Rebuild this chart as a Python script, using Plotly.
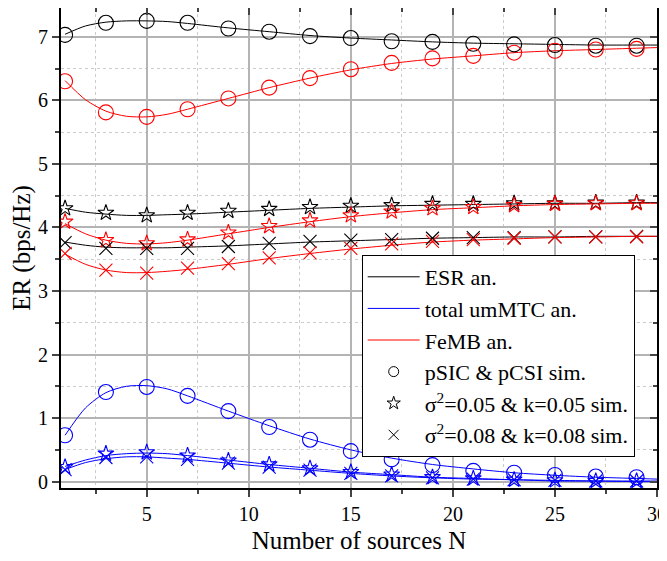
import plotly.graph_objects as go

# Simulation points
N_sim = [1, 3, 5, 7, 9, 11, 13, 15, 17, 19, 21, 23, 25, 27, 29]
esr_p_sim = [7.03, 7.22, 7.25, 7.22, 7.13, 7.08, 7.01, 6.98, 6.93, 6.92, 6.89, 6.88, 6.87, 6.86, 6.86]
femb_p_sim = [6.30, 5.81, 5.74, 5.86, 6.03, 6.20, 6.35, 6.49, 6.59, 6.66, 6.70, 6.75, 6.78, 6.80, 6.81]
mtc_p_sim = [0.73, 1.41, 1.49, 1.35, 1.11, 0.86, 0.66, 0.48, 0.35, 0.26, 0.17, 0.14, 0.105, 0.08, 0.07]
esr_05_sim = [4.30, 4.23, 4.19, 4.23, 4.26, 4.29, 4.32, 4.34, 4.35, 4.37, 4.37, 4.38, 4.38, 4.39, 4.39]
femb_05_sim = [4.09, 3.80, 3.75, 3.81, 3.92, 4.02, 4.11, 4.19, 4.25, 4.30, 4.32, 4.35, 4.37, 4.38, 4.38]
mtc_05_sim = [0.23, 0.44, 0.46, 0.41, 0.33, 0.27, 0.21, 0.15, 0.11, 0.07, 0.05, 0.03, 0.02, 0.01, 0.01]
esr_08_sim = [3.76, 3.67, 3.67, 3.67, 3.70, 3.75, 3.78, 3.80, 3.81, 3.83, 3.84, 3.84, 3.85, 3.85, 3.86]
femb_08_sim = [3.59, 3.33, 3.28, 3.36, 3.43, 3.52, 3.60, 3.67, 3.74, 3.78, 3.81, 3.83, 3.85, 3.85, 3.85]
mtc_08_sim = [0.19, 0.38, 0.39, 0.35, 0.29, 0.23, 0.18, 0.13, 0.09, 0.06, 0.04, 0.03, 0.02, 0.01, 0.01]

# Analytical curves
N_an = [1, 2, 3, 4, 5, 6, 7, 9, 11, 13, 15, 17, 19, 21, 23, 25, 27, 29, 30]
esr_p_an = [7.04, 7.17, 7.23, 7.25, 7.25, 7.24, 7.21, 7.14, 7.08, 7.02, 6.98, 6.95, 6.92, 6.90, 6.89, 6.88, 6.87, 6.87, 6.87]
femb_p_an = [6.31, 6.01, 5.83, 5.75, 5.74, 5.78, 5.86, 6.03, 6.20, 6.35, 6.48, 6.58, 6.65, 6.70, 6.75, 6.78, 6.80, 6.82, 6.83]
mtc_p_an = [0.73, 1.16, 1.40, 1.50, 1.51, 1.46, 1.35, 1.11, 0.88, 0.67, 0.50, 0.37, 0.27, 0.20, 0.14, 0.10, 0.07, 0.05, 0.04]
esr_05_an = [4.30, 4.24, 4.21, 4.19, 4.19, 4.20, 4.21, 4.24, 4.27, 4.30, 4.32, 4.34, 4.35, 4.36, 4.37, 4.38, 4.38, 4.39, 4.39]
femb_05_an = [4.06, 3.90, 3.80, 3.75, 3.74, 3.76, 3.80, 3.90, 4.00, 4.09, 4.17, 4.23, 4.28, 4.31, 4.34, 4.36, 4.37, 4.38, 4.38]
mtc_05_an = [0.24, 0.34, 0.41, 0.44, 0.45, 0.44, 0.41, 0.34, 0.27, 0.21, 0.15, 0.11, 0.07, 0.05, 0.03, 0.02, 0.01, 0.01, 0.01]
esr_08_an = [3.77, 3.72, 3.69, 3.68, 3.68, 3.68, 3.69, 3.71, 3.74, 3.77, 3.79, 3.81, 3.83, 3.84, 3.85, 3.85, 3.86, 3.86, 3.86]
femb_08_an = [3.58, 3.42, 3.33, 3.29, 3.29, 3.31, 3.34, 3.42, 3.51, 3.59, 3.66, 3.72, 3.77, 3.80, 3.82, 3.84, 3.85, 3.86, 3.86]
mtc_08_an = [0.19, 0.30, 0.36, 0.39, 0.39, 0.37, 0.35, 0.29, 0.23, 0.18, 0.13, 0.09, 0.06, 0.04, 0.03, 0.01, 0.01, 0.00, 0.00]

x_ticks = [5, 10, 15, 20, 25, 30]
y_ticks = [0, 1, 2, 3, 4, 5, 6, 7]

BLACK, BLUE, RED = "#000000", "#0000FF", "#FF0000"
FONT = "Liberation Serif, Times New Roman, serif"

fig = go.Figure()

lines = [
    (esr_p_an, BLACK), (femb_p_an, RED), (mtc_p_an, BLUE),
    (esr_05_an, BLACK), (femb_05_an, RED), (mtc_05_an, BLUE),
    (esr_08_an, BLACK), (femb_08_an, RED), (mtc_08_an, BLUE),
]
for ys, c in lines:
    fig.add_trace(go.Scatter(x=N_an, y=ys, mode="lines", line=dict(color=c, width=1, shape="spline", smoothing=0.8),
                             showlegend=False, hoverinfo="skip"))

sims = [
    (esr_p_sim, BLACK, "circle-open", 15), (femb_p_sim, RED, "circle-open", 15), (mtc_p_sim, BLUE, "circle-open", 15),
    (esr_05_sim, BLACK, "star-open", 12), (femb_05_sim, RED, "star-open", 12), (mtc_05_sim, BLUE, "star-open", 12),
    (esr_08_sim, BLACK, "x-thin-open", 13), (femb_08_sim, RED, "x-thin-open", 13), (mtc_08_sim, BLUE, "x-thin-open", 13),
]
for ys, c, sym, sz in sims:
    fig.add_trace(go.Scatter(x=N_sim, y=ys, mode="markers",
                             marker=dict(symbol=sym, size=sz, color=c, line=dict(color=c, width=1.1)),
                             showlegend=False))

# Legend entries
fig.add_trace(go.Scatter(x=[None], y=[None], mode="lines", line=dict(color=BLACK, width=1), name="ESR an."))
fig.add_trace(go.Scatter(x=[None], y=[None], mode="lines", line=dict(color=BLUE, width=1), name="total umMTC an."))
fig.add_trace(go.Scatter(x=[None], y=[None], mode="lines", line=dict(color=RED, width=1), name="FeMB an."))
fig.add_trace(go.Scatter(x=[None], y=[None], mode="markers",
                         marker=dict(symbol="circle-open", size=10, color=BLACK, line=dict(color=BLACK, width=1)),
                         name="pSIC &amp; pCSI sim."))
fig.add_trace(go.Scatter(x=[None], y=[None], mode="markers",
                         marker=dict(symbol="star-open", size=10, color=BLACK, line=dict(color=BLACK, width=1)),
                         name="σ<sup>2</sup>=0.05 &amp; k=0.05 sim."))
fig.add_trace(go.Scatter(x=[None], y=[None], mode="markers",
                         marker=dict(symbol="x-thin-open", size=10, color=BLACK, line=dict(color=BLACK, width=1)),
                         name="σ<sup>2</sup>=0.08 &amp; k=0.08 sim."))

# dummy for mirrored axes
fig.add_trace(go.Scatter(x=[None], y=[None], xaxis="x2", yaxis="y2", showlegend=False, hoverinfo="skip"))

XR = [0.8, 30]
YR = [-0.1, 7.453]
x_minor = [2.5, 7.5, 12.5, 17.5, 22.5, 27.5]
y_minor = [0.5, 1.5, 2.5, 3.5, 4.5, 5.5, 6.5]

fig.update_layout(
    width=667, height=561,
    margin=dict(l=53, r=18, t=0, b=81, autoexpand=False),
    paper_bgcolor="white", plot_bgcolor="white",
    font=dict(family=FONT, size=20, color="black"),
    showlegend=True,
    legend=dict(x=0.5045, y=0.4854, xanchor="left", yanchor="top",
                bgcolor="white", bordercolor="black", borderwidth=1,
                font=dict(family=FONT, size=22), tracegroupgap=0, itemwidth=52),
    xaxis=dict(range=XR, tickvals=x_ticks, ticks="outside", ticklen=7, tickwidth=1.5,
               automargin=False, ticklabeloverflow="allow",
               showline=True, linecolor="black", linewidth=2,
               showgrid=True, gridcolor="#b4b4b4", gridwidth=1.5, zeroline=False,
               minor=dict(tickvals=x_minor, ticks="outside", ticklen=4, tickwidth=1.5,
                          showgrid=True, gridcolor="#cccccc", griddash="dot", gridwidth=1),
               title=dict(text="Number of sources N", font=dict(family=FONT, size=25), standoff=7),
               tickfont=dict(family=FONT, size=20)),
    yaxis=dict(range=YR, tickvals=y_ticks, ticks="outside", ticklen=7, tickwidth=1.5,
               automargin=False,
               showline=True, linecolor="black", linewidth=2,
               showgrid=True, gridcolor="#b4b4b4", gridwidth=1.5, zeroline=False,
               minor=dict(tickvals=y_minor, ticks="outside", ticklen=4, tickwidth=1.5,
                          showgrid=True, gridcolor="#cccccc", griddash="dot", gridwidth=1),
               title=dict(text="ER (bps/Hz)", font=dict(family=FONT, size=25), standoff=6),
               tickfont=dict(family=FONT, size=20)),
    xaxis2=dict(range=XR, overlaying="x", side="top", anchor="y", tickvals=x_ticks, ticks="inside",
                automargin=False,
                ticklen=7, tickwidth=1.5, showticklabels=False, showgrid=False, zeroline=False,
                showline=True, linecolor="black", linewidth=2,
                minor=dict(tickvals=x_minor, ticks="inside", ticklen=4, tickwidth=1.5)),
    yaxis2=dict(range=YR, overlaying="y", side="right", anchor="x", tickvals=y_ticks, ticks="inside",
                automargin=False,
                ticklen=7, tickwidth=1.5, showticklabels=False, showgrid=False, zeroline=False,
                showline=True, linecolor="black", linewidth=2,
                minor=dict(tickvals=y_minor, ticks="inside", ticklen=4, tickwidth=1.5)),
)

fig.write_html("out.html")
